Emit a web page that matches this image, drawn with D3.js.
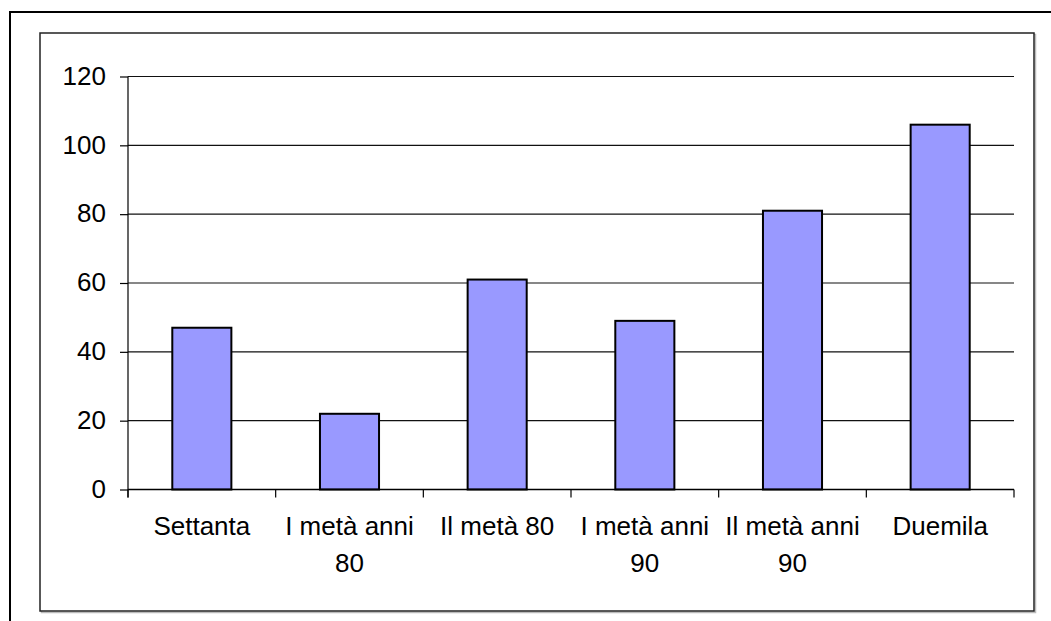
<!DOCTYPE html>
<html>
<head>
<meta charset="utf-8">
<script src="https://cdn.jsdelivr.net/npm/d3@7"></script>
<style>
  html, body { margin: 0; padding: 0; background: #fff; }
  svg { display: block; }
  text { font-family: "Liberation Sans", Arial, sans-serif; fill: #000; }
</style>
</head>
<body>
<svg id="chart" width="1051" height="621"></svg>
<script>
// Categories (periods) and counts per period
const categories = ["Settanta", "I metà anni 80", "Il metà 80", "I metà anni 90", "Il metà anni 90", "Duemila"];
const values = [47, 22, 61, 49, 81, 106];
const yTicks = [0, 20, 40, 60, 80, 100, 120];

const svg = d3.select("#chart");
const W = 1051, H = 621;
const fontSize = 26;

// Outer page frame (runs off the right and bottom edges)
svg.append("rect")
  .attr("x", 10).attr("y", 12)
  .attr("width", W + 20).attr("height", H + 20)
  .attr("fill", "none").attr("stroke", "#000").attr("stroke-width", 2);

// Chart area frame with a faint shadow
svg.append("rect")
  .attr("x", 41.5).attr("y", 34.5)
  .attr("width", 994).attr("height", 578)
  .attr("fill", "none").attr("stroke", "#bbb").attr("stroke-width", 1.5);
svg.append("rect")
  .attr("x", 40).attr("y", 33)
  .attr("width", 994).attr("height", 578)
  .attr("fill", "#fff").attr("stroke", "#222").attr("stroke-width", 1.5);

const plot = { left: 128, right: 1014, top: 76.5, bottom: 489.5 };

const x = d3.scaleBand()
  .domain(categories)
  .range([plot.left, plot.right])
  .paddingInner(0).paddingOuter(0);

const y = d3.scaleLinear()
  .domain([0, 120])
  .range([plot.bottom, plot.top]);

// Horizontal gridlines
svg.append("g")
  .selectAll("line")
  .data(yTicks.filter(d => d > 0))
  .join("line")
  .attr("x1", plot.left).attr("x2", plot.right)
  .attr("y1", d => y(d)).attr("y2", d => y(d))
  .attr("stroke", "#111").attr("stroke-width", 1.2);

// Bars: width is band / 2.5 (gap width 150%)
const barW = x.bandwidth() / 2.5;
svg.append("g")
  .selectAll("rect")
  .data(values)
  .join("rect")
  .attr("x", (d, i) => x(categories[i]) + (x.bandwidth() - barW) / 2)
  .attr("y", d => y(d))
  .attr("width", barW)
  .attr("height", d => y(0) - y(d))
  .attr("fill", "#9999FF")
  .attr("stroke", "#000")
  .attr("stroke-width", 2);

// Y axis
const yAxis = d3.axisLeft(y)
  .tickValues(yTicks)
  .tickSize(8)
  .tickPadding(14)
  .tickFormat(d3.format("d"));
const gy = svg.append("g")
  .attr("transform", `translate(${plot.left},0)`)
  .call(yAxis);
gy.select(".domain").remove();
gy.selectAll(".tick line").attr("stroke", "#000").attr("stroke-width", 1.2);
gy.selectAll(".tick text")
  .attr("font-size", fontSize)
  .attr("font-family", "'Liberation Sans', Arial, sans-serif")
  .attr("dy", "0.3em");
svg.append("line")
  .attr("x1", plot.left).attr("x2", plot.left)
  .attr("y1", plot.top).attr("y2", plot.bottom + 8)
  .attr("stroke", "#000").attr("stroke-width", 1.2);

// X axis baseline and category boundary ticks
svg.append("line")
  .attr("x1", plot.left).attr("x2", plot.right)
  .attr("y1", plot.bottom).attr("y2", plot.bottom)
  .attr("stroke", "#000").attr("stroke-width", 1.5);
const bounds = categories.map(c => x(c)).concat([plot.right]);
svg.append("g")
  .selectAll("line")
  .data(bounds)
  .join("line")
  .attr("x1", d => d).attr("x2", d => d)
  .attr("y1", plot.bottom).attr("y2", plot.bottom + 8)
  .attr("stroke", "#000").attr("stroke-width", 1.2);

// Category labels, wrapped to the band width
const labels = svg.append("g")
  .selectAll("text")
  .data(categories)
  .join("text")
  .attr("text-anchor", "middle")
  .attr("font-size", fontSize)
  .attr("x", d => x(d) + x.bandwidth() / 2)
  .attr("y", 535);

labels.each(function(label) {
  const t = d3.select(this);
  const cx = +t.attr("x");
  const words = label.split(" ");
  let line = [];
  let tspan = t.append("tspan").attr("x", cx).attr("dy", 0);
  words.forEach(w => {
    line.push(w);
    tspan.text(line.join(" "));
    if (tspan.node().getComputedTextLength() > x.bandwidth() - 4 && line.length > 1) {
      line.pop();
      tspan.text(line.join(" "));
      line = [w];
      tspan = t.append("tspan").attr("x", cx).attr("dy", 36.5).text(w);
    }
  });
});
</script>
</body>
</html>
